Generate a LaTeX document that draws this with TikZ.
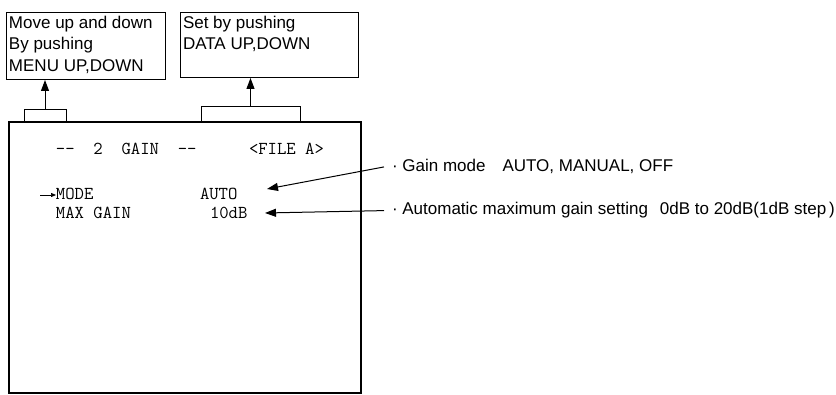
\documentclass[tikz,border=0pt]{standalone}
\usepackage{fontspec}
\setmainfont{Liberation Sans}
\usetikzlibrary{arrows.meta,positioning}

\begin{document}
\begin{tikzpicture}[
x=1pt,y=-1pt,
every node/.style={inner sep=0pt,outer sep=0pt},
box/.style={draw,line width=1pt,anchor=north west},
tab/.style={draw,line width=1pt,anchor=south west},
note/.style={font=\fontsize{17}{21.5}\selectfont,align=left,anchor=north west},
scr/.style={font=\fontsize{18.2}{20}\selectfont\ttfamily,anchor=base west},
lab/.style={font=\fontsize{17}{20}\selectfont,anchor=base west},
arr/.style={-{Triangle[length=11pt,width=8pt]},line width=1pt}
]
\useasboundingbox (0,0) rectangle (836,395);

% help boxes and the tabs below them
\node[box,minimum width=159pt,minimum height=67pt] (menubox) at (6,13) {};
\node[note] (menutxt) at (9,16) {Move up and down\\By pushing\\MENU UP,DOWN};
\node[box,minimum width=178pt,minimum height=65pt] (databox) at (180,13) {};
\node[note] (datatxt) at (183,16) {Set by pushing\\DATA UP,DOWN};
\node[tab,minimum width=42pt,minimum height=12pt] (menutab) at (24,122) {};
\node[tab,minimum width=99pt,minimum height=15pt] (datatab) at (201,122) {};
\draw[arr] (menutab.north) -- (menutab.north |- menubox.south);
\draw[arr] (datatab.north) -- (datatab.north |- databox.south);

% screen
\node[draw,line width=1.6pt,anchor=north west,minimum width=352pt,minimum height=271pt] (screen) at (9,122) {};
\node[scr] (title) at (56,155) {--\ \ 2\ \ GAIN\ \ --};
\node[scr] (file) at (249,155) {<FILE A>};
\node[scr] (mode) at (56,200) {MODE};
\node[scr] (auto) at (200,200) {AUTO};
\node[scr] (maxgain) at (56,219) {MAX GAIN};
\node[scr] (gainval) at (210,219) {10dB};
\coordinate (cur) at (40,195);
\draw[-{Triangle[length=5pt,width=4pt]},line width=0.7pt] (cur) -- (cur -| mode.west);

% explanations
\node[lab] (gmlab) at (392,172) {·\ Gain mode\hspace{1em}AUTO, MANUAL, OFF};
\node[lab] (mglab) at (392,215) {·\ Automatic maximum gain setting\hspace{0.7em}0dB to 20dB(1dB step\kern3pt)};
\coordinate (gmtip) at (267,189);
\coordinate (mgtip) at (265,213);
\draw[arr] ([xshift=-8pt]gmlab.west) -- (gmtip);
\draw[arr] ([xshift=-8pt]mglab.west) -- (mgtip);
\end{tikzpicture}
\end{document}
